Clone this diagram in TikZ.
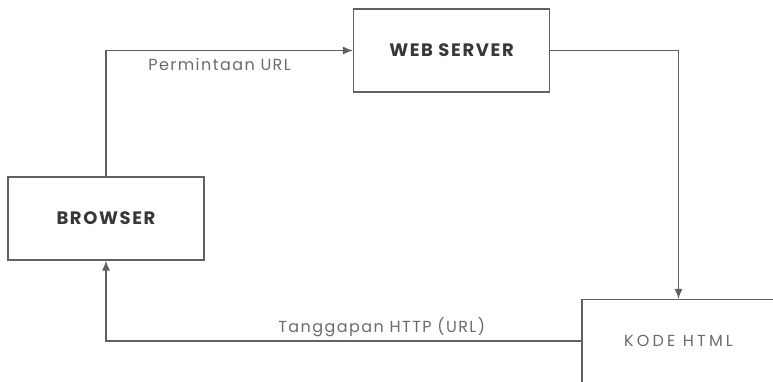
\documentclass[tikz,border=0pt]{standalone}
\usepackage{fontspec}
\setmainfont{Poppins}
\newfontfamily\lebar[LetterSpace=9]{Poppins}
\newfontfamily\lebarx[LetterSpace=20]{Poppins}
\usepackage{tikz}
\usetikzlibrary{arrows.meta}
\colorlet{g}{black!62}
\colorlet{t}{black!58}
\tikzset{kotak/.style={rectangle, draw=g, line width=1.2pt, minimum width=196pt, minimum height=83pt,
            inner sep=0pt, align=center},
         judul/.style={font=\lebar\fontsize{18}{20}\selectfont\bfseries, text=black!78},
         ket/.style={font=\lebar\fontsize{16}{18}\selectfont, text=t},
         panah/.style={-{Latex[length=10pt, width=8pt]}, line width=1.2pt, g}}

\begin{document}
\begin{tikzpicture}[x=1pt, y=-1pt]
\useasboundingbox (0,0) rectangle (773,382);
 \node[kotak, judul] (browser) at (106,218.5) {BROWSER};
 \node[kotak, judul] (server) at (451.5,50.5) {WEB SERVER};
 \node[kotak, font=\lebarx\fontsize{16}{18}\selectfont, text=t, minimum width=193pt]
   (kode) at (678.5,341) {KODE HTML};

\draw [panah] (browser.north) |- (server.west)
   node[pos=0.73, below=4pt, ket]{Permintaan URL};
\draw [panah] (server.east) -| (kode.north);
\draw [panah] (kode.west) -| (browser.south)
   node[pos=0.21, above=0pt, ket]{Tanggapan HTTP (URL)};
\end{tikzpicture}
\end{document}
